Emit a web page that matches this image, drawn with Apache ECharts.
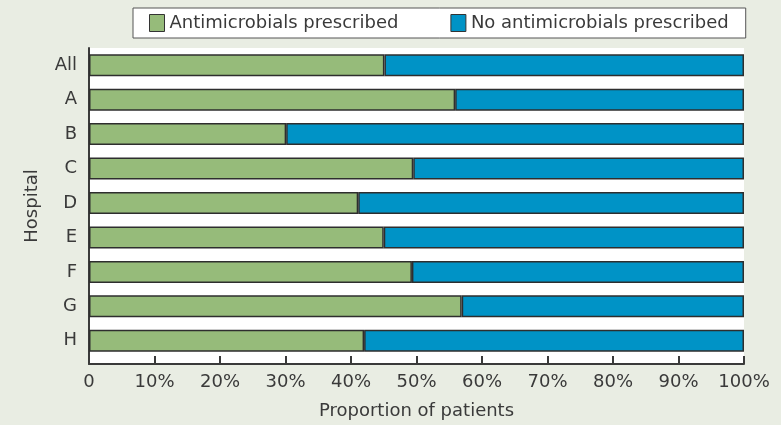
<!DOCTYPE html>
<html>
<head>
<meta charset="utf-8">
<script src="https://cdn.jsdelivr.net/npm/echarts@6/dist/echarts.min.js"></script>
<style>
  html, body { margin: 0; padding: 0; background: #e9ede3; }
  #chart { width: 781px; height: 425px; }
</style>
</head>
<body>
<div id="chart"></div>
<script>
// Hospitals, top to bottom
const hospitals = ['All', 'A', 'B', 'C', 'D', 'E', 'F', 'G', 'H'];
// Share of patients (%) per hospital
const prescribed = [45.1, 55.9, 30.1, 49.5, 41.1, 45.0, 49.3, 56.9, 42.0];
const notPrescribed = [54.9, 44.1, 69.9, 50.5, 58.9, 55.0, 50.7, 43.1, 58.0];
const xTicks = [0, 10, 20, 30, 40, 50, 60, 70, 80, 90, 100];
const seriesNames = ['Antimicrobials prescribed', 'No antimicrobials prescribed'];

const FONT = 'DejaVu Sans';
const TEXT = '#3a3a3a';
const AXIS = '#3a3a3a';

const chart = echarts.init(document.getElementById('chart'));

chart.setOption({
  backgroundColor: '#e9ede3',
  textStyle: { fontFamily: FONT, color: TEXT },
  legend: {
    left: 133,
    top: 8,
    padding: [6, 17, 6, 16],
    backgroundColor: '#ffffff',
    borderColor: '#555555',
    borderWidth: 1,
    borderRadius: 0,
    itemGap: 52,
    itemWidth: 15,
    itemHeight: 17,
    icon: 'rect',
    itemStyle: { borderColor: '#333333', borderWidth: 1 },
    textStyle: { fontFamily: FONT, fontSize: 18, color: TEXT },
    data: seriesNames
  },
  grid: [
    // bars
    { left: 89, right: 37, top: 48, bottom: 67, containLabel: false },
    // frame: white plot area with the visible axes
    { left: 89, right: 37, top: 48, bottom: 60, containLabel: false,
      show: true, backgroundColor: '#ffffff', borderWidth: 0 }
  ],
  xAxis: [
    { gridIndex: 0, type: 'value', min: 0, max: 100, show: false },
    {
      gridIndex: 1, type: 'value', min: 0, max: 100, interval: 10,
      name: 'Proportion of patients',
      nameLocation: 'middle',
      nameGap: 38,
      nameTextStyle: { fontFamily: FONT, fontSize: 18, color: TEXT },
      axisLine: { show: true, lineStyle: { color: AXIS, width: 2 } },
      axisTick: { show: true, inside: true, length: 8, lineStyle: { color: AXIS, width: 2 } },
      axisLabel: {
        fontFamily: FONT, fontSize: 18, color: TEXT, margin: 9,
        showMaxLabel: true, showMinLabel: true,
        formatter: v => (xTicks.includes(v) ? (v === 0 ? '0' : v + '%') : '')
      },
      splitLine: { show: false }
    }
  ],
  yAxis: [
    {
      gridIndex: 0, type: 'category', inverse: true, data: hospitals,
      axisLine: { show: false },
      axisTick: { show: false },
      axisLabel: { fontFamily: FONT, fontSize: 18, color: TEXT, margin: 12 }
    },
    {
      gridIndex: 1, type: 'value', min: 0, max: 1,
      name: 'Hospital',
      nameLocation: 'middle',
      nameGap: 48,
      nameTextStyle: { fontFamily: FONT, fontSize: 18, color: TEXT },
      axisLine: { show: true, lineStyle: { color: AXIS, width: 2 } },
      axisTick: { show: false },
      axisLabel: { show: false },
      splitLine: { show: false }
    }
  ],
  series: [
    {
      name: seriesNames[0], type: 'bar', stack: 'total',
      xAxisIndex: 0, yAxisIndex: 0,
      barWidth: 22,
      data: prescribed,
      itemStyle: { color: '#96bb7a', borderColor: '#2e2e2e', borderWidth: 1.5 },
      z: 3
    },
    {
      name: seriesNames[1], type: 'bar', stack: 'total',
      xAxisIndex: 0, yAxisIndex: 0,
      barWidth: 22,
      data: notPrescribed,
      itemStyle: { color: '#0093c6', borderColor: '#2e2e2e', borderWidth: 1.5 },
      z: 3
    }
  ]
});
</script>
</body>
</html>
